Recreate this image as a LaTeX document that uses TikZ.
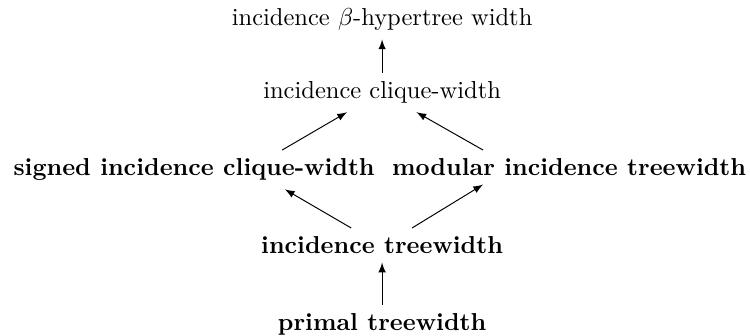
\documentclass[tikz,border=0pt]{standalone}
\usepackage{amsmath,amssymb}
\usepackage{tikz}

\begin{document}
\begin{tikzpicture}[x=1pt, y=1pt, every node/.style={anchor=base}, >=latex]
			\useasboundingbox (0,0) rectangle (306,137);
			\node(ibhw) at (155.9, 126.5) {incidence $\beta$-hypertree width};
			\node(icw) at (155.9, 96.7) {incidence clique-width};
			\node(sicw) at (79.2, 65.3) {\textbf{signed incidence clique-width}};
			\node(mitw) at (232.2, 65.3) {\textbf{modular incidence treewidth}};
			\node(itw) at (155.9, 33.5) {\textbf{incidence treewidth}};
			\node(ptw) at (155.9, 2.0) {\textbf{primal treewidth}};
			\draw[->](icw) -- (ibhw);
			\draw[->]([xshift=35.9pt]sicw.north) -- ([xshift=-14.3pt]icw.south);
			\draw[->]([xshift=-35.1pt]mitw.north) -- ([xshift=14pt]icw.south);
			\draw[->]([xshift=-12.6pt]itw.north) -- ([xshift=37pt]sicw.south);
			\draw[->]([xshift=12.2pt]itw.north) -- ([xshift=-35.1pt]mitw.south);
			\draw[->](ptw) -- (itw);
		\end{tikzpicture}
\end{document}
